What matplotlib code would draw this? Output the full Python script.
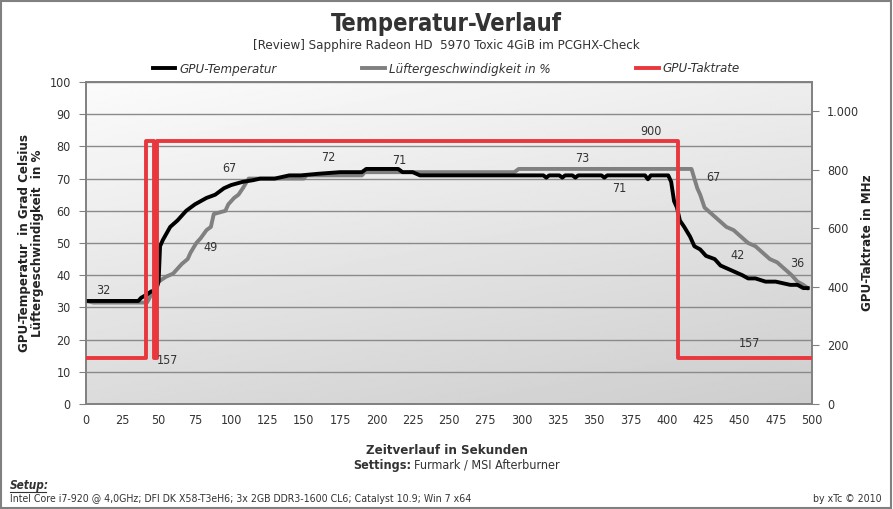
import numpy as np
import matplotlib
matplotlib.use('Agg')
import matplotlib.pyplot as plt
from matplotlib.ticker import FuncFormatter

plt.rcParams['font.family'] = ['DejaVu Sans']
plt.rcParams['font.stretch'] = 'condensed'

# GPU-Temperatur (Grad Celsius)
temp_t = [0, 36, 38, 42, 45, 48, 50, 51, 53, 58, 63, 69, 75, 83, 89, 95, 100, 108,
          115, 120, 130, 140, 148, 160, 175, 190, 193, 215, 218, 225, 230, 290, 315,
          317, 319, 326, 328, 330, 335, 337, 339, 355, 357, 359, 385, 387, 389, 400,
          401, 403, 405, 407, 409, 412, 416, 419, 423, 427, 433, 437, 442, 447, 452,
          456, 461, 468, 475, 480, 485, 490, 494, 497]
temp_v = [32, 32, 33, 34, 35, 35, 38, 49, 51, 55, 57, 60, 62, 64, 65, 67, 68, 69,
          69.5, 70, 70, 71, 71, 71.5, 72, 72, 73, 73, 72, 72, 71, 71, 71,
          70.3, 71, 71, 70.3, 71, 71, 70.3, 71, 71, 70.3, 71, 71, 69.8, 71, 71,
          71, 69, 63, 61, 57, 55, 52, 49, 48, 46, 45, 43, 42, 41, 40,
          39, 39, 38, 38, 37.5, 37, 37, 36, 36]

# Lueftergeschwindigkeit (%)
fan_t = [0, 5, 10, 42, 45, 48, 50, 55, 60, 63, 66, 70, 72, 76, 79, 83, 86, 88, 96,
         98, 102, 105, 108, 110, 112, 120, 150, 152, 190, 192, 295, 298, 417, 419,
         421, 423, 426, 431, 436, 441, 446, 451, 456, 461, 466, 471, 476, 481, 486,
         490, 494, 497]
fan_v = [32, 31.5, 31.5, 31.5, 34, 36, 38, 39.5, 40.5, 42, 43.5, 45, 47, 50, 51.5,
         54, 55, 59, 60, 62, 64, 65, 67, 68.5, 70, 70, 70, 71, 71, 72, 72, 73, 73,
         70, 67, 65, 61, 59, 57, 55, 54, 52, 50, 49, 47, 45, 44, 42, 40, 38, 37, 36]

# GPU-Taktrate (MHz)
clock_t = [0, 41, 41, 47, 47, 49, 49, 408, 408, 500]
clock_v = [157, 157, 900, 900, 157, 157, 900, 900, 157, 157]

# Datenbeschriftungen (x, y, Text)
labels_left = [(12, 35.2, '32'), (99, 73, '67'), (86, 48.7, '49'), (167, 76.5, '72'),
               (216, 75.6, '71'), (342, 76.1, '73'), (367, 67, '71'), (432, 70.3, '67'),
               (449, 46, '42'), (490, 43.7, '36')]
labels_right = [(56, 150, '157'), (389, 930, '900'), (457, 207, '157')]

txt = '#333333'

fig = plt.figure(figsize=(8.93, 5.09), dpi=100)
fig.patch.set_facecolor('white')
fig.patches.append(plt.Rectangle((0.001, 0.001), 0.997, 0.997, transform=fig.transFigure,
                                 fill=False, edgecolor='#808080', linewidth=1.5))

ax = fig.add_axes([86 / 893, 1 - 404 / 509, (812 - 86) / 893, (404 - 82) / 509])
ax2 = ax.twinx()

# Hintergrundverlauf
gx, gy = np.meshgrid(np.linspace(0, 1, 200), np.linspace(0, 1, 200))
grad = 0.985 - 0.18 * (0.3 * gx + 0.7 * gy)
ax.imshow(grad, cmap='gray', vmin=0, vmax=1, extent=[0, 500, 0, 100], origin='upper',
          aspect='auto', zorder=0, interpolation='bilinear')

ax.set_xlim(0, 500)
ax.set_ylim(0, 100)
ax2.set_ylim(0, 1100)
ax.set_yticks(range(0, 101, 10))
ax.set_xticks(range(0, 501, 25))
ax2.set_yticks(range(0, 1001, 200))
ax2.yaxis.set_major_formatter(FuncFormatter(lambda v, p: f'{int(v):,}'.replace(',', '.')))
ax.yaxis.grid(True, color='#8a8a8a', linewidth=1)

for a in (ax, ax2):
    for s in a.spines.values():
        s.set_color('#808080')
        s.set_linewidth(1.2)
ax.tick_params(axis='x', length=0, pad=7, labelsize=9, labelcolor=txt)
ax.tick_params(axis='y', length=5, color='#808080', labelsize=9, labelcolor=txt, pad=6)
ax2.tick_params(axis='y', length=5, color='#808080', labelsize=9, labelcolor=txt, pad=6)

l1, = ax.plot(temp_t, temp_v, color='black', linewidth=2.8, zorder=4, label='GPU-Temperatur')
l2, = ax.plot(fan_t, fan_v, color='#808080', linewidth=2.8, zorder=3,
              label='Lüftergeschwindigkeit in %')
l3, = ax2.plot(clock_t, clock_v, color='#e8383d', linewidth=2.8, zorder=5,
               label='GPU-Taktrate')
ax.set_zorder(1)
ax2.set_zorder(2)
ax2.patch.set_visible(False)

for x, y, s in labels_left:
    ax.text(x, y, s, ha='center', va='center', fontsize=9, color=txt, zorder=6)
for x, y, s in labels_right:
    ax2.text(x, y, s, ha='center', va='center', fontsize=9, color=txt, zorder=6)

ax.set_ylabel('GPU-Temperatur  in Grad Celsius\nLüftergeschwindigkeit  in %',
              fontsize=9.5, fontweight='bold', color='#222222', labelpad=4, linespacing=1.0)
ax2.set_ylabel('GPU-Taktrate in MHz', fontsize=9.5, fontweight='bold', color='#222222',
               labelpad=1)

leg = fig.legend(handles=[l1, l2, l3], loc='center', bbox_to_anchor=(0.5, 1 - 69 / 509),
                 ncol=3, frameon=False, prop={'style': 'italic', 'size': 9.5},
                 handlelength=1.7, handletextpad=0.3, columnspacing=6.5)
for t in leg.get_texts():
    t.set_color(txt)

fig.text(0.5, 1 - 24 / 509, 'Temperatur-Verlauf', ha='center', va='center', fontsize=17,
         fontweight='bold', color=txt)
fig.text(0.5, 1 - 46 / 509, '[Review] Sapphire Radeon HD  5970 Toxic 4GiB im PCGHX-Check',
         ha='center', va='center', fontsize=9.5, color=txt)
fig.text(0.5, 1 - 451 / 509, 'Zeitverlauf in Sekunden', ha='center', va='center',
         fontsize=9.5, fontweight='bold', color=txt)
fig.text(411 / 893, 1 - 465 / 509, 'Settings:', ha='right', va='center', fontsize=9,
         fontweight='bold', color=txt)
fig.text(414 / 893, 1 - 465 / 509, 'Furmark / MSI Afterburner', ha='left', va='center',
         fontsize=9, color=txt)
fig.text(10 / 893, 1 - 486 / 509, 'Setup:', ha='left', va='center', fontsize=8.5,
         fontweight='bold', style='italic', color=txt)
fig.lines.append(plt.Line2D([10 / 893, 46 / 893], [1 - 492 / 509, 1 - 492 / 509],
                            transform=fig.transFigure, color=txt, linewidth=0.8))
fig.text(10 / 893, 1 - 499 / 509,
         'Intel Core i7-920 @ 4,0GHz; DFI DK X58-T3eH6; 3x 2GB DDR3-1600 CL6; Catalyst 10.9; Win 7 x64',
         ha='left', va='center', fontsize=7.6, color=txt)
fig.text(882 / 893, 1 - 499 / 509, 'by xTc © 2010', ha='right', va='center', fontsize=7.6,
         color=txt)

fig.savefig('out.png', dpi=100)
